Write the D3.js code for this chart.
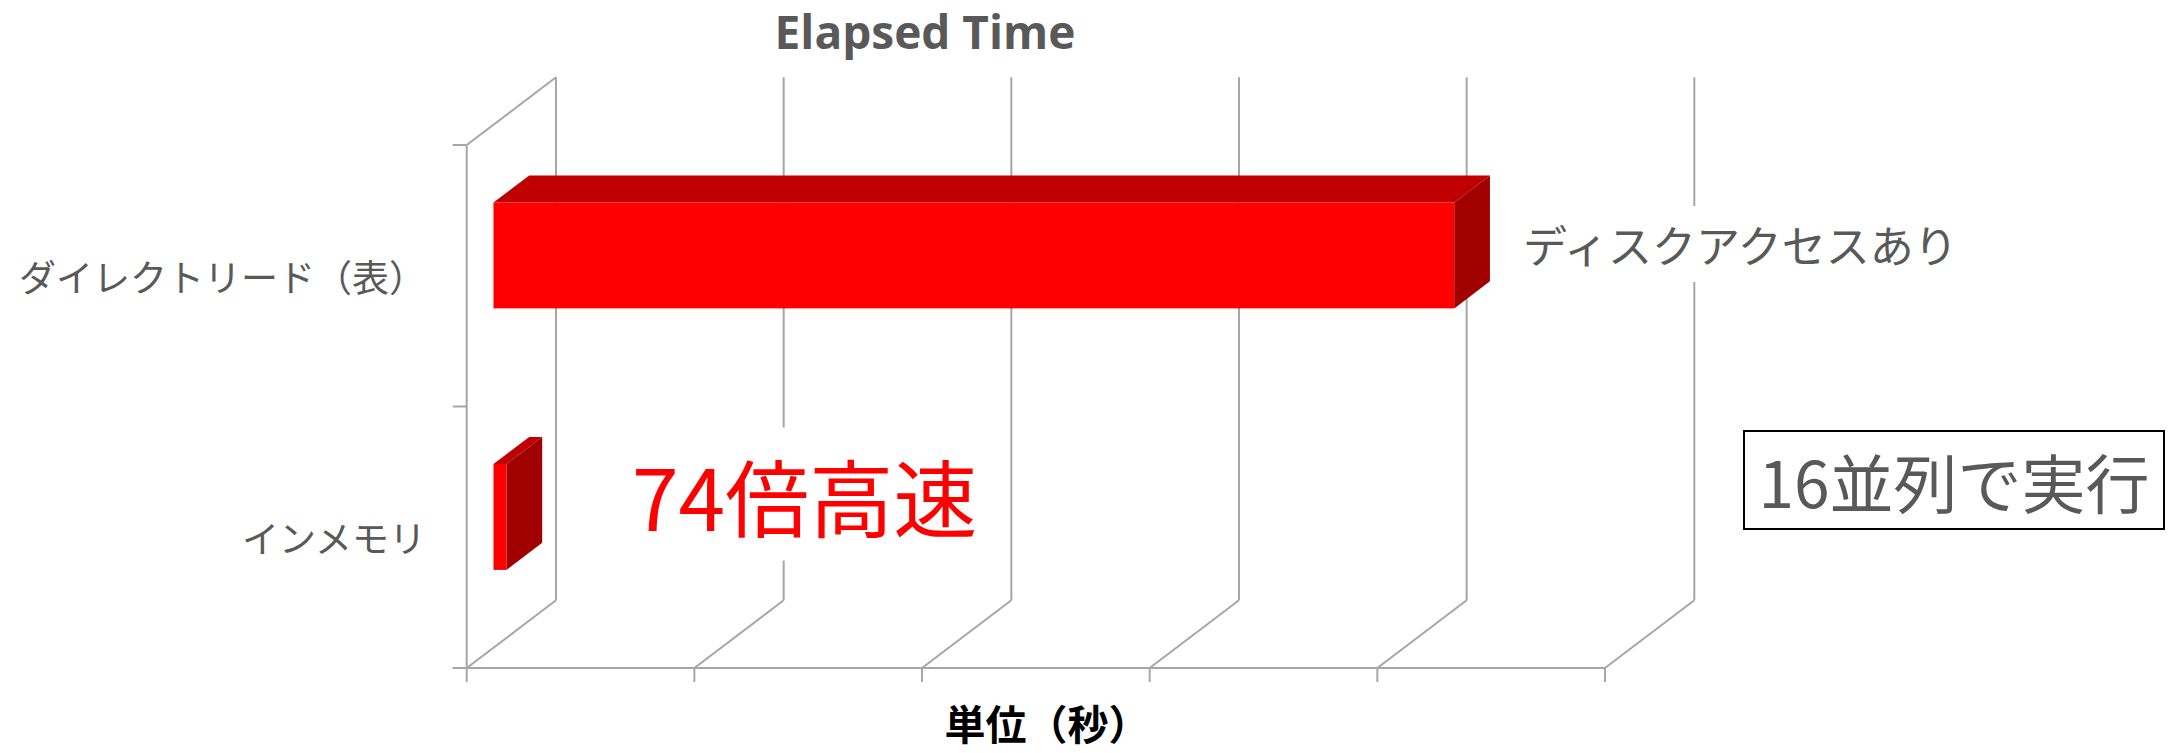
<!DOCTYPE html>
<html lang="ja">
<head>
<meta charset="utf-8">
<title>Elapsed Time</title>
<style>
    body { margin: 0; background: #fff; }
    text { font-family: "Noto Sans CJK JP", "Noto Sans", sans-serif; }
</style>
</head>
<body>
<script src="https://d3js.org/d3.v7.min.js"></script>
<script>

    // data
    var categories = ["ダイレクトリード（表）", "インメモリ"];
    var values = [211, 2.85];
    var xTicks = [0, 50, 100, 150, 200, 250];
    var title = "Elapsed Time";
    var xTitle = "単位（秒）";
    var barNote = "ディスクアクセスあり";
    var speedNote = "74倍高速";
    var boxNote = "16並列で実行";

    var width = 2182,
        height = 753;

    var svg = d3.select("body").append("svg")
        .attr("width", width)
        .attr("height", height);

    // front plane of the 3d box
    var x = d3.scaleLinear().domain([0, 250]).range([466.7, 1605]);
    var y = d3.scaleBand().domain(categories).range([145, 668]);

    // depth offset of the back wall
    var DX = 89.3,
        DY = -67.7;
    var d0 = 0.3, d1 = 0.7;       // bar sits between these depth fractions
    var barFrac = 0.405;          // bar thickness as part of the band

    var gridColor = "#a6a6a6";
    var textColor = "#595959";

    var yTop = y.range()[0], yBot = y.range()[1];
    var grid = svg.append("g").attr("stroke", gridColor).attr("stroke-width", 2).attr("fill", "none");

    // left wall
    grid.append("line")
        .attr("x1", x(0)).attr("y1", yTop)
        .attr("x2", x(0) + DX).attr("y2", yTop + DY);

    // back wall verticals + floor diagonals
    xTicks.forEach(function (t) {
        grid.append("line")
            .attr("x1", x(t) + DX).attr("y1", yTop + DY)
            .attr("x2", x(t) + DX).attr("y2", yBot + DY);
        grid.append("line")
            .attr("x1", x(t)).attr("y1", yBot)
            .attr("x2", x(t) + DX).attr("y2", yBot + DY);
    });

    // front axes
    grid.append("line")
        .attr("x1", x(0)).attr("y1", yTop)
        .attr("x2", x(0)).attr("y2", yBot);
    grid.append("line")
        .attr("x1", x(0) - 14).attr("y1", yBot)
        .attr("x2", x(250)).attr("y2", yBot);
    var yTickPos = [yTop].concat(categories.map(function (c) { return y(c) + y.bandwidth(); }));
    yTickPos.forEach(function (p) {
        grid.append("line")
            .attr("x1", x(0) - 14).attr("y1", p)
            .attr("x2", x(0)).attr("y2", p);
    });
    xTicks.forEach(function (t) {
        grid.append("line")
            .attr("x1", x(t)).attr("y1", yBot)
            .attr("x2", x(t)).attr("y2", yBot + 14);
    });

    // 3d bars
    var bars = svg.selectAll(".bar")
        .data(categories.map(function (c, i) { return {cat: c, value: values[i]}; }))
        .enter().append("g")
        .attr("class", "bar");

    function pt(v, sy, d) {
        return [x(v) + d * DX, sy + d * DY];
    }

    bars.each(function (d) {
        var g = d3.select(this);
        var cy = y(d.cat) + y.bandwidth() / 2;
        var t = cy - barFrac * y.bandwidth() / 2,
            b = cy + barFrac * y.bandwidth() / 2;
        var line = d3.line();
        // top face
        g.append("path")
            .attr("d", line([pt(0, t, d0), pt(d.value, t, d0), pt(d.value, t, d1), pt(0, t, d1)]) + "Z")
            .attr("fill", "#c00000");
        // side face
        g.append("path")
            .attr("d", line([pt(d.value, t, d0), pt(d.value, t, d1), pt(d.value, b, d1), pt(d.value, b, d0)]) + "Z")
            .attr("fill", "#a00000");
        // front face
        var f0 = pt(0, t, d0), f1 = pt(d.value, b, d0);
        g.append("rect")
            .attr("x", f0[0]).attr("y", f0[1])
            .attr("width", f1[0] - f0[0])
            .attr("height", f1[1] - f0[1])
            .attr("fill", "#ff0000");
    });

    // category labels
    svg.selectAll(".cat")
        .data(categories)
        .enter().append("text")
        .attr("class", "cat")
        .attr("x", 426)
        .attr("y", function (d) { return y(d) + y.bandwidth() / 2; })
        .attr("text-anchor", "end")
        .attr("dominant-baseline", "central")
        .attr("fill", textColor)
        .style("font-size", "37px")
        .text(function (d) { return d; });

    // title
    svg.append("text")
        .attr("x", 925)
        .attr("y", 49)
        .attr("text-anchor", "middle")
        .attr("fill", textColor)
        .style("font-family", "'Open Sans', sans-serif")
        .style("font-weight", "bold")
        .style("font-size", "46px")
        .text(title);

    // axis title
    svg.append("text")
        .attr("x", 1047)
        .attr("y", 740)
        .attr("text-anchor", "middle")
        .attr("fill", "#000")
        .style("font-weight", "bold")
        .style("font-size", "41px")
        .text(xTitle);

    // annotation with white background
    function note(txt, xx, yy, size, color, anchor) {
        var g = svg.append("g");
        var bg = g.append("rect").attr("fill", "#fff");
        var tx = g.append("text")
            .attr("x", xx).attr("y", yy)
            .attr("text-anchor", anchor)
            .attr("dominant-baseline", "central")
            .attr("fill", color)
            .style("font-size", size + "px")
            .text(txt);
        var bb = tx.node().getBBox();
        bg.attr("x", bb.x - 8).attr("y", bb.y - 6)
            .attr("width", bb.width + 16).attr("height", bb.height + 12);
        return g;
    }

    note(barNote, 1523, 244, 44, textColor, "start");
    note(speedNote, 632, 494, 84, "#ff0000", "start");

    // boxed note
    svg.append("rect")
        .attr("x", 1744).attr("y", 431)
        .attr("width", 420).attr("height", 98)
        .attr("fill", "#fff")
        .attr("stroke", "#000")
        .attr("stroke-width", 2);
    svg.append("text")
        .attr("x", 1954).attr("y", 480)
        .attr("text-anchor", "middle")
        .attr("dominant-baseline", "central")
        .attr("fill", textColor)
        .style("font-size", "64px")
        .text(boxNote);

</script>
</body>
</html>
